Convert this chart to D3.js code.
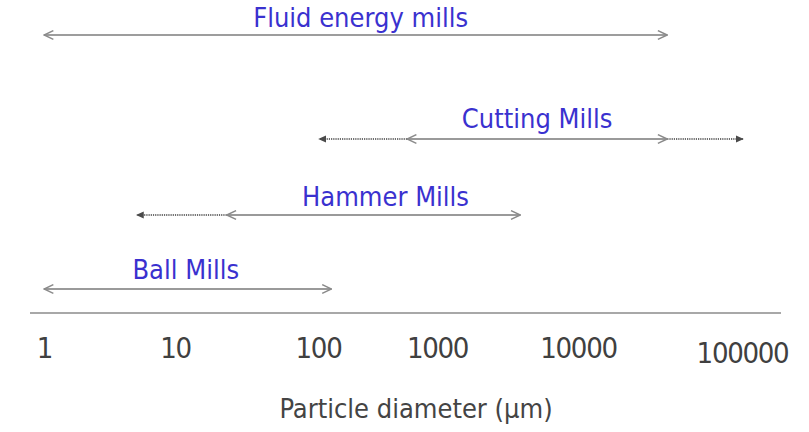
<!DOCTYPE html>
<html>
<head>
<meta charset="utf-8">
<script src="https://cdn.jsdelivr.net/npm/d3@7/dist/d3.min.js"></script>
<style>
  html, body { margin: 0; padding: 0; background: #fff; }
  svg { display: block; }
</style>
</head>
<body>
<div id="chart"></div>
<script>
// Size ranges of mill types, particle diameter in µm
const mills = ["Fluid energy mills", "Cutting Mills", "Hammer Mills", "Ball Mills"];
const solidFrom = [1, 560, 23, 1];
const solidTo = [35000, 35000, 3900, 130];
// dotted extensions of the range (null = none)
const extendFrom = [null, 100, 5, null];
const extendTo = [null, 100000, null, null];

const tickValues = [1, 10, 100, 1000, 10000, 100000];
const tickLabels = ["1", "10", "100", "1000", "10000", "100000"];
const axisTitle = "Particle diameter (\u00b5m)";

const W = 809, H = 432;
const svg = d3.select("#chart").append("svg")
  .attr("width", W).attr("height", H);

const defs = svg.append("defs");
// open chevron head for the main range
defs.append("marker")
  .attr("id", "chev").attr("viewBox", "0 0 10 10")
  .attr("refX", 9.5).attr("refY", 5)
  .attr("markerWidth", 11).attr("markerHeight", 11)
  .attr("markerUnits", "userSpaceOnUse")
  .attr("orient", "auto-start-reverse")
  .append("path").attr("d", "M1,1 L9.5,5 L1,9")
  .attr("fill", "none").attr("stroke", "#8a8a8a").attr("stroke-width", 1.3);
// filled triangle head for the extended range
defs.append("marker")
  .attr("id", "tri").attr("viewBox", "0 0 10 10")
  .attr("refX", 9).attr("refY", 5)
  .attr("markerWidth", 8).attr("markerHeight", 8)
  .attr("markerUnits", "userSpaceOnUse")
  .attr("orient", "auto-start-reverse")
  .append("path").attr("d", "M0,0.5 L10,5 L0,9.5 Z")
  .attr("fill", "#4a4a4a");

// log scale, piecewise between the decade labels
const x = d3.scaleLog()
  .domain(tickValues)
  .range([44, 175, 318, 437, 578, 742]);

const y = d3.scaleOrdinal().domain(mills).range([35, 139, 215, 289]);
const labelDx = [5, 0, 12, -2];
const labelDy = [-8, -11, -9, -10];

const rows = mills.map((name, i) => ({
  name, from: solidFrom[i], to: solidTo[i],
  extFrom: extendFrom[i], extTo: extendTo[i], i
}));

const g = svg.append("g");

// dotted extensions
function dotted(x1, x2, yy) {
  g.append("line")
    .attr("x1", x1).attr("x2", x2)
    .attr("y1", yy).attr("y2", yy)
    .attr("stroke", "#6e6e6e").attr("stroke-width", 2)
    .attr("stroke-dasharray", "1.2,1")
    .attr("marker-end", "url(#tri)");
}
rows.filter(d => d.extFrom != null).forEach(d =>
  dotted(x(d.from), x(d.extFrom) + 1, y(d.name)));
rows.filter(d => d.extTo != null).forEach(d =>
  dotted(x(d.to), x(d.extTo) + 1, y(d.name)));

// main ranges
g.selectAll(".range").data(rows).join("line")
  .attr("class", "range")
  .attr("x1", d => x(d.from)).attr("x2", d => x(d.to))
  .attr("y1", d => y(d.name)).attr("y2", d => y(d.name))
  .attr("stroke", d => d.i === 0 ? "#7c7c7c" : "#9a9a9a")
  .attr("stroke-width", d => d.i === 0 ? 1.3 : 2)
  .attr("marker-start", "url(#chev)")
  .attr("marker-end", "url(#chev)");

// mill names
g.selectAll(".name").data(rows).join("text")
  .attr("class", "name")
  .attr("x", d => (x(d.from) + x(d.to)) / 2 + labelDx[d.i])
  .attr("y", d => y(d.name) + labelDy[d.i])
  .attr("text-anchor", "middle")
  .attr("font-family", "'DejaVu Sans Condensed', 'DejaVu Sans', sans-serif")
  .attr("font-size", 27)
  .attr("fill", "#3a31cf")
  .text(d => d.name);

// x axis
const axisY = 313;
svg.append("line")
  .attr("x1", 30).attr("x2", 781)
  .attr("y1", axisY).attr("y2", axisY)
  .attr("stroke", "#a8a8a8").attr("stroke-width", 2);

const axis = d3.axisBottom(x)
  .tickValues(tickValues)
  .tickFormat((d, i) => tickLabels[i])
  .tickSize(0);

const ax = svg.append("g")
  .attr("transform", `translate(0,${axisY})`)
  .call(axis);
ax.select(".domain").remove();
ax.selectAll("text")
  .attr("y", (d, i) => i === tickValues.length - 1 ? 50 : 45)
  .attr("dy", 0)
  .attr("font-family", "'DejaVu Sans Condensed', 'DejaVu Sans', sans-serif")
  .attr("font-size", 29)
  .attr("letter-spacing", "-1.3px")
  .attr("fill", "#404040");

svg.append("text")
  .attr("x", 416).attr("y", 418)
  .attr("text-anchor", "middle")
  .attr("font-family", "'DejaVu Sans Condensed', 'DejaVu Sans', sans-serif")
  .attr("font-size", 27)
  .attr("fill", "#444")
  .text(axisTitle);
</script>
</body>
</html>
